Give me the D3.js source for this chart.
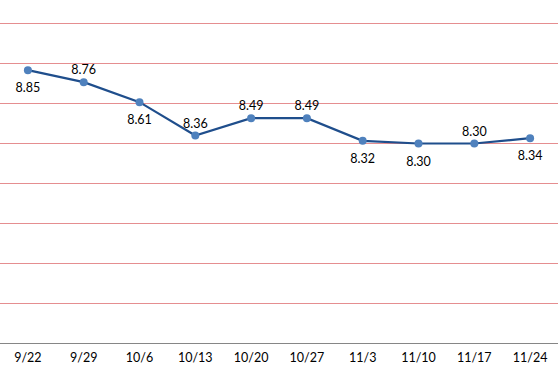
<!DOCTYPE html>
<html lang="en">
<head>
  <meta charset="UTF-8" />
  <title>Weekly trend</title>
  <script src="https://d3js.org/d3.v7.min.js"></script>
  <style>
    body { margin: 0; background: #fff; font-family: Lato, "Open Sans", sans-serif; }
    #chart { width: 558px; height: 385px; }
  </style>
</head>
<body>
  <div id="chart"></div>
  <script>
    // ----- Data -----
    const dates  = ['9/22', '9/29', '10/6', '10/13', '10/20', '10/27', '11/3', '11/10', '11/17', '11/24'];
    const values = [8.85, 8.76, 8.61, 8.36, 8.49, 8.49, 8.32, 8.30, 8.30, 8.34];
    // label placement: -1 = below the point, 1 = above
    const labelSide = [-1, 1, -1, 1, 1, 1, -1, -1, 1, -1];
    const gridTicks = [6.8, 7.1, 7.4, 7.7, 8.0, 8.3, 8.6, 8.9, 9.2];

    const width = 558, height = 385;
    const svg = d3.select('#chart').append('svg')
      .attr('width', width)
      .attr('height', height);

    // ----- Scales -----
    const x = d3.scaleBand().domain(dates).range([0, 558]);
    const y = d3.scaleLinear().domain([6.8, 9.2]).range([343.5, 23.5]);

    // ----- Gridlines -----
    svg.append('g')
      .selectAll('line')
      .data(gridTicks.slice(1))
      .join('line')
      .attr('x1', 0)
      .attr('x2', width)
      .attr('y1', d => y(d))
      .attr('y2', d => y(d))
      .attr('stroke', '#e58e90')
      .attr('stroke-width', 1);

    // ----- X axis -----
    const xAxis = svg.append('g')
      .attr('transform', `translate(0,${y(6.8)})`)
      .call(d3.axisBottom(x).tickSize(0).tickPadding(10));
    xAxis.select('.domain').attr('stroke', '#868686').attr('d', `M0,0H${width}`);
    xAxis.selectAll('text')
      .attr('font-family', 'Lato, "Open Sans", sans-serif')
      .attr('font-size', '12.5px')
      .attr('fill', '#000');

    // ----- Line -----
    const line = d3.line()
      .x((d, i) => x(dates[i]) + x.bandwidth() / 2)
      .y(d => y(d));

    svg.append('path')
      .datum(values)
      .attr('d', line)
      .attr('fill', 'none')
      .attr('stroke', '#1f4e8c')
      .attr('stroke-width', 2.2);

    svg.append('g')
      .selectAll('circle')
      .data(values)
      .join('circle')
      .attr('cx', (d, i) => x(dates[i]) + x.bandwidth() / 2)
      .attr('cy', d => y(d))
      .attr('r', 4)
      .attr('fill', '#4f81bd');

    // ----- Data labels -----
    svg.append('g')
      .selectAll('text')
      .data(values)
      .join('text')
      .attr('x', (d, i) => x(dates[i]) + x.bandwidth() / 2)
      .attr('y', (d, i) => y(d) + (labelSide[i] > 0 ? -8 : 22))
      .attr('text-anchor', 'middle')
      .attr('font-size', '12.5px')
      .attr('fill', '#000')
      .text(d => d.toFixed(2));
  </script>
</body>
</html>
